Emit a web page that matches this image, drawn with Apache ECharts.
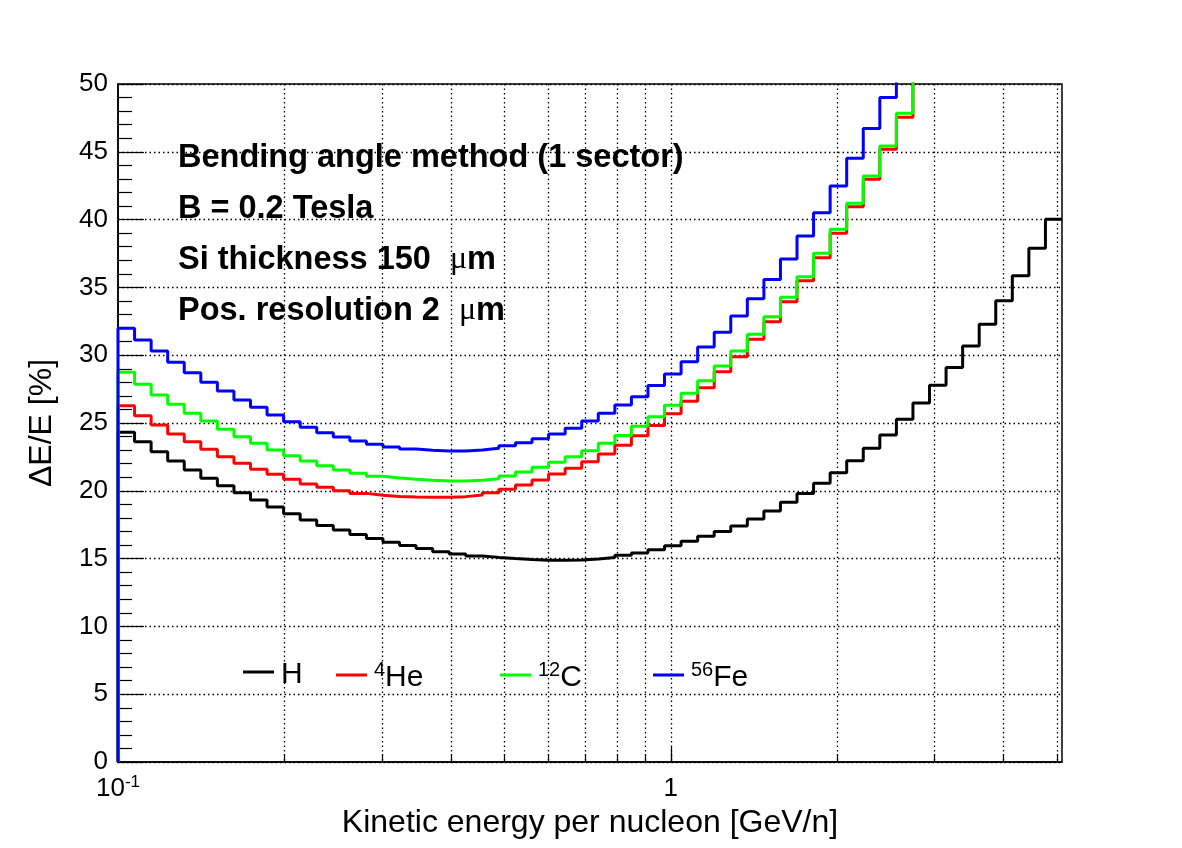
<!DOCTYPE html>
<html>
<head>
<meta charset="utf-8">
<title>Bending angle method - energy resolution</title>
<script src="https://cdn.jsdelivr.net/npm/echarts@6/dist/echarts.min.js"></script>
<style>
  html, body { margin: 0; padding: 0; background: #fff; }
  #chart { width: 1182px; height: 848px; }
</style>
</head>
<body>
<div id="chart"></div>
<script>
// binning of the histograms: equal bins in log(E), kinetic energy per nucleon [GeV/n]
var X_MIN = 0.1
var X_MAX = 5.1
var N_BINS = 57

// dE/E [%] per bin (last value of He/C/Fe is the first bin above the 50 % frame)
var hValues = [
  24.31, 23.62, 22.88, 22.20, 21.53, 20.92, 20.38, 19.86, 19.32, 18.80,
  18.30, 17.85, 17.45, 17.10, 16.78, 16.49, 16.20, 15.96, 15.74, 15.51,
  15.34, 15.19, 15.09, 15.00, 14.93, 14.88, 14.87, 14.90, 14.97, 15.08,
  15.24, 15.42, 15.66, 15.95, 16.28, 16.64, 17.00, 17.40, 17.92, 18.51,
  19.15, 19.81, 20.55, 21.34, 22.22, 23.13, 24.11, 25.27, 26.48, 27.78,
  29.10, 30.68, 32.28, 34.02, 35.86, 37.88, 40.02
]
var he4Values = [
  26.28, 25.54, 24.85, 24.19, 23.62, 23.06, 22.52, 22.03, 21.59, 21.22,
  20.85, 20.50, 20.26, 20.01, 19.81, 19.68, 19.58, 19.54, 19.52, 19.52,
  19.57, 19.69, 19.86, 20.11, 20.43, 20.80, 21.24, 21.66, 22.15, 22.71,
  23.35, 24.06, 24.82, 25.68, 26.60, 27.60, 28.78, 29.89, 31.17, 32.47,
  33.95, 35.49, 37.19, 38.99, 40.95, 42.97, 45.18, 47.54, 50.2
]
var c12Values = [
  28.74, 27.85, 27.06, 26.38, 25.71, 25.15, 24.53, 23.99, 23.50, 23.01,
  22.59, 22.20, 21.85, 21.53, 21.29, 21.08, 20.95, 20.85, 20.77, 20.72,
  20.72, 20.77, 20.89, 21.09, 21.39, 21.74, 22.10, 22.52, 22.96, 23.50,
  24.08, 24.76, 25.47, 26.30, 27.19, 28.12, 29.20, 30.31, 31.54, 32.84,
  34.27, 35.79, 37.51, 39.28, 41.20, 43.22, 45.43, 47.84, 50.4
]
var fe56Values = [
  31.98, 31.12, 30.31, 29.48, 28.71, 28.00, 27.36, 26.70, 26.16, 25.59,
  25.10, 24.68, 24.29, 23.97, 23.67, 23.44, 23.23, 23.08, 22.99, 22.94,
  22.94, 23.01, 23.13, 23.33, 23.55, 23.83, 24.19, 24.61, 25.15, 25.71,
  26.33, 26.94, 27.76, 28.61, 29.52, 30.60, 31.69, 32.89, 34.17, 35.59,
  37.09, 38.79, 40.51, 42.48, 44.52, 46.71, 49.01, 51.4
]

var seriesNames = ['H', '4He', '12C', '56Fe']
var seriesColors = ['#000000', '#ff0000', '#00ff00', '#0000ff']
var legendLabels = ['{t|H}', '{s|4}{t|He}', '{s|12}{t|C}', '{s|56}{t|Fe}']

// x axis ticks (log axis, only 0.1 and 1 get a label)
var xGridTicks = [0.2, 0.3, 0.4, 0.5, 0.6, 0.7, 0.8, 0.9, 1, 2, 3, 4, 5]
var xLabelTicks = [0.1, 1]

var infoLines = [
  'Bending angle method (1 sector)',
  'B = 0.2 Tesla',
  'Si thickness 150 {mu|μ}m',
  'Pos. resolution 2 {mu|μ}m'
]

var FONT = "'Liberation Sans', Arial, Helvetica, sans-serif"

function binEdges() {
  var edges = []
  for (var k = 0; k <= N_BINS; k++) {
    edges.push(X_MIN * Math.pow(X_MAX / X_MIN, k / N_BINS))
  }
  return edges
}

// ROOT style histogram outline: starts at 0 on the left edge, steps at every bin edge
function histPoints(values) {
  var edges = binEdges()
  var pts = [[edges[0], 0]]
  for (var i = 0; i < values.length; i++) {
    pts.push([edges[i], values[i]])
  }
  if (values.length === N_BINS) {
    pts.push([edges[N_BINS], values[N_BINS - 1]])
  }
  return pts
}

var allValues = [hValues, he4Values, c12Values, fe56Values]

var series = seriesNames.map(function (name, i) {
  return {
    name: name,
    type: 'line',
    step: 'end',
    data: histPoints(allValues[i]),
    color: seriesColors[i],
    showSymbol: false,
    symbol: 'none',
    clip: true,
    lineStyle: { color: seriesColors[i], width: 3 },
    z: 3 + i
  }
})

var legendLeft = [243, 336, 500, 653]
var legends = seriesNames.map(function (name, i) {
  return {
    data: [name],
    left: legendLeft[i],
    top: 660,
    padding: 0,
    orient: 'horizontal',
    icon: 'rect',
    itemWidth: 31,
    itemHeight: 3,
    itemGap: 0,
    selectedMode: false,
    itemStyle: { borderWidth: 0 },
    lineStyle: { width: 0 },
    formatter: function () { return legendLabels[i] },
    textStyle: {
      color: '#000',
      fontFamily: FONT,
      padding: [6, 0, 0, 2],
      rich: {
        t: { fontSize: 30, lineHeight: 36, fontFamily: FONT, color: '#000' },
        s: { fontSize: 20, lineHeight: 20, verticalAlign: 'top', fontFamily: FONT, color: '#000' }
      }
    }
  }
})

var infoY = [158, 209, 260, 311]
var graphics = infoLines.map(function (line, i) {
  return {
    type: 'text',
    x: 178,
    y: infoY[i],
    z: 20,
    style: {
      text: line,
      fill: '#000',
      fontSize: 32.5,
      fontWeight: 'bold',
      fontFamily: FONT,
      verticalAlign: 'middle',
      rich: {
        mu: {
          fontSize: 32,
          fontWeight: 'normal',
          fontFamily: "'Liberation Serif', 'DejaVu Serif', serif",
          padding: [0, 0, 0, 10],
          fill: '#000'
        }
      }
    }
  }
})

var gridDots = { color: '#000', width: 1.3, type: [1.5, 3] }

var option = {
  animation: false,
  backgroundColor: '#fff',
  grid: {
    left: 118,
    right: 120,
    top: 84,
    bottom: 86,
    show: true,
    borderColor: '#000',
    borderWidth: 1.5,
    backgroundColor: 'transparent'
  },
  legend: legends,
  graphic: graphics,
  xAxis: [{
    type: 'log',
    logBase: 10,
    min: X_MIN,
    max: X_MAX,
    position: 'bottom',
    name: 'Kinetic energy per nucleon [GeV/n]',
    nameLocation: 'middle',
    nameGap: 38,
    nameTextStyle: { fontFamily: FONT, fontSize: 32, color: '#000' },
    axisLine: { show: true, lineStyle: { color: '#000', width: 1.5 } },
    axisTick: {
      show: true,
      inside: true,
      length: 8,
      customValues: xGridTicks,
      lineStyle: { color: '#000', width: 1.2 }
    },
    axisLabel: {
      show: true,
      customValues: xLabelTicks,
      margin: 12,
      color: '#000',
      fontFamily: FONT,
      fontSize: 26,
      formatter: function (v) {
        if (Math.abs(v - 0.1) < 1e-9) return '{b|10}{s|-1}'
        if (Math.abs(v - 1) < 1e-9) return '{b|1}'
        return ''
      },
      rich: {
        b: { fontSize: 26, lineHeight: 30, fontFamily: FONT, color: '#000' },
        s: { fontSize: 17, lineHeight: 17, verticalAlign: 'top', fontFamily: FONT, color: '#000' }
      }
    },
    splitLine: { show: true, lineStyle: gridDots }
  }, {
    // longer tick at the decade
    type: 'log',
    logBase: 10,
    min: X_MIN,
    max: X_MAX,
    position: 'bottom',
    axisLine: { show: false },
    axisTick: {
      show: true,
      inside: true,
      length: 15,
      customValues: [1],
      lineStyle: { color: '#000', width: 1.2 }
    },
    axisLabel: { show: false },
    splitLine: { show: false }
  }],
  yAxis: {
    type: 'value',
    min: 0,
    max: 50,
    interval: 5,
    name: 'ΔE/E [%]',
    nameLocation: 'middle',
    nameGap: 60,
    nameTextStyle: { fontFamily: FONT, fontSize: 32, color: '#000' },
    axisLine: { show: true, lineStyle: { color: '#000', width: 1.5 } },
    axisTick: { show: true, inside: true, length: 26, lineStyle: { color: '#000', width: 1.2 } },
    minorTick: { show: true, splitNumber: 5, length: 14, lineStyle: { color: '#000', width: 1.2 } },
    axisLabel: { margin: 10, color: '#000', fontFamily: FONT, fontSize: 26 },
    splitLine: { show: true, lineStyle: gridDots }
  },
  series: series
}

var chart = echarts.init(document.getElementById('chart'), null, { renderer: 'canvas' })
chart.setOption(option)
</script>
</body>
</html>
